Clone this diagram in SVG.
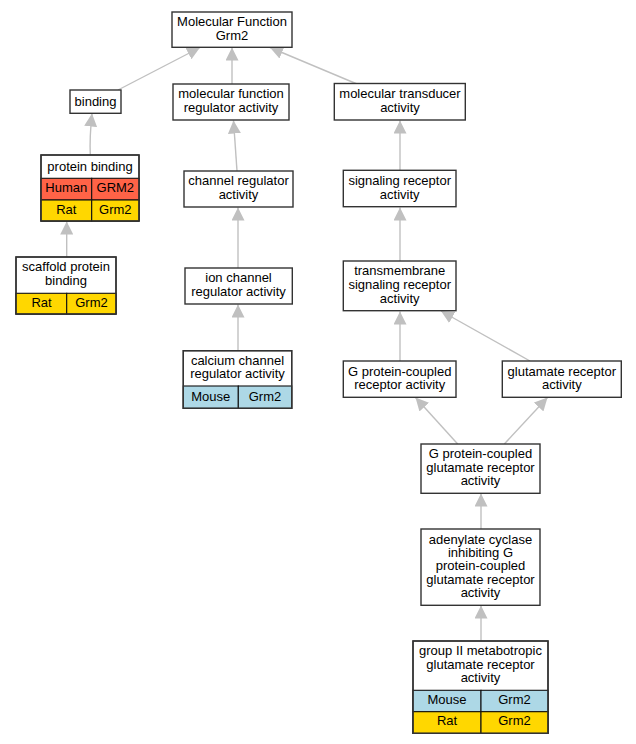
<svg xmlns="http://www.w3.org/2000/svg" width="636" height="744" viewBox="0 0 636 744">
<style>
text{font-family:"Liberation Sans",Arial,sans-serif;font-size:13px;fill:#000;text-anchor:middle}
.box{fill:#fff;stroke:#333;stroke-width:1.4}
.cell{stroke:#111;stroke-width:1.1}
.human{fill:#ff6347}
.rat{fill:#ffd700}
.mouse{fill:#add8e6}
.edge{fill:none;stroke:#c0c0c0;stroke-width:1.4}
</style>
<defs>
<marker id="ah" markerUnits="userSpaceOnUse" markerWidth="14" markerHeight="13" refX="13" refY="6.5" orient="auto">
<path d="M0,0 L13,6.5 L0,13 z" fill="#c0c0c0"/>
</marker>
</defs>
<rect width="636" height="744" fill="#fff"/>
<g id="connectors">
<path class="edge" marker-end="url(#ah)" d="M118,90 L200,47.5"/>
<path class="edge" marker-end="url(#ah)" d="M232,84 L232,47.5"/>
<path class="edge" marker-end="url(#ah)" d="M357,84 L270,47.5"/>
<path class="edge" marker-end="url(#ah)" d="M90.3,155 C89.5,140 90.5,128 92,113.5"/>
<path class="edge" marker-end="url(#ah)" d="M66.7,257 L66.7,221.5"/>
<path class="edge" marker-end="url(#ah)" d="M237,171 L233.5,120.5"/>
<path class="edge" marker-end="url(#ah)" d="M238,268 L238,207.5"/>
<path class="edge" marker-end="url(#ah)" d="M238,351 L238,304.5"/>
<path class="edge" marker-end="url(#ah)" d="M400,170 L400,120.5"/>
<path class="edge" marker-end="url(#ah)" d="M400,261 L400,207.5"/>
<path class="edge" marker-end="url(#ah)" d="M400,361 L400,311.5"/>
<path class="edge" marker-end="url(#ah)" d="M530,361 L441,311"/>
<path class="edge" marker-end="url(#ah)" d="M457.7,444 L415.5,397.5"/>
<path class="edge" marker-end="url(#ah)" d="M504.3,444 L547.5,397.5"/>
<path class="edge" marker-end="url(#ah)" d="M481,529 L481,493.5"/>
<path class="edge" marker-end="url(#ah)" d="M481,641 L481,605.5"/>
</g>
<g id="mf">
<rect class="box" x="172" y="12" width="120" height="35.3"/>
<text x="232" y="26">Molecular Function</text>
<text x="232" y="39.5">Grm2</text>
</g>
<g id="binding">
<rect class="box" x="70" y="90" width="51" height="23.3"/>
<text x="95.5" y="106">binding</text>
</g>
<g id="mfra">
<rect class="box" x="173" y="84" width="116" height="36"/>
<text x="231" y="98">molecular function</text>
<text x="231" y="111.5">regulator activity</text>
</g>
<g id="mta">
<rect class="box" x="334.3" y="83.5" width="131" height="36.5"/>
<text x="400" y="98">molecular transducer</text>
<text x="400" y="111.5">activity</text>
</g>
<g id="proteinbinding">
<rect class="box" x="41" y="155" width="98" height="66"/>
<text x="90" y="170.5">protein binding</text>
<rect class="cell human" x="41" y="178.3" width="50.7" height="21.7"/>
<rect class="cell human" x="91.7" y="178.3" width="47.3" height="21.7"/>
<rect class="cell rat" x="41" y="200" width="50.7" height="21"/>
<rect class="cell rat" x="91.7" y="200" width="47.3" height="21"/>
<text x="66.3" y="192.3">Human</text>
<text x="115.3" y="192.3">GRM2</text>
<text x="66.3" y="213.7">Rat</text>
<text x="115.3" y="213.7">Grm2</text>
<rect x="41" y="155" width="98" height="66" fill="none" stroke="#333" stroke-width="1.4"/>
</g>
<g id="scaffold">
<rect class="box" x="16" y="257" width="100" height="57"/>
<text x="66" y="271.2">scaffold protein</text>
<text x="66" y="284.5">binding</text>
<rect class="cell rat" x="16" y="293.3" width="50.7" height="20.7"/>
<rect class="cell rat" x="66.7" y="293.3" width="49.3" height="20.7"/>
<text x="41.5" y="307.3">Rat</text>
<text x="91.5" y="307.3">Grm2</text>
<rect x="16" y="257" width="100" height="57" fill="none" stroke="#333" stroke-width="1.4"/>
</g>
<g id="channelreg">
<rect class="box" x="184" y="171" width="109" height="36"/>
<text x="238.5" y="185">channel regulator</text>
<text x="238.5" y="198.5">activity</text>
</g>
<g id="ionchannel">
<rect class="box" x="185" y="268" width="107.3" height="36"/>
<text x="238.5" y="282">ion channel</text>
<text x="238.5" y="295.5">regulator activity</text>
</g>
<g id="calcium">
<rect class="box" x="183.3" y="350.7" width="108.4" height="57.6"/>
<text x="237.5" y="365">calcium channel</text>
<text x="237.5" y="378">regulator activity</text>
<rect class="cell mouse" x="183.3" y="386" width="55" height="22.3"/>
<rect class="cell mouse" x="238.3" y="386" width="53.4" height="22.3"/>
<text x="210.8" y="400.5">Mouse</text>
<text x="265" y="400.5">Grm2</text>
<rect x="183.3" y="350.7" width="108.4" height="57.6" fill="none" stroke="#333" stroke-width="1.4"/>
</g>
<g id="signaling">
<rect class="box" x="343.3" y="170.3" width="112.7" height="36.4"/>
<text x="399.7" y="185">signaling receptor</text>
<text x="399.7" y="198.5">activity</text>
</g>
<g id="transmembrane">
<rect class="box" x="343.3" y="261" width="112.7" height="49.7"/>
<text x="399.7" y="275.3">transmembrane</text>
<text x="399.7" y="289.3">signaling receptor</text>
<text x="399.7" y="302.5">activity</text>
</g>
<g id="gpcr">
<rect class="box" x="343.3" y="361" width="112.7" height="36.3"/>
<text x="399.7" y="375.5">G protein-coupled</text>
<text x="399.7" y="389">receptor activity</text>
</g>
<g id="glutamate">
<rect class="box" x="502.3" y="361" width="119" height="36.3"/>
<text x="561.8" y="375.5">glutamate receptor</text>
<text x="561.8" y="389">activity</text>
</g>
<g id="gpcglut">
<rect class="box" x="421" y="444" width="119" height="49.3"/>
<text x="480.5" y="458.3">G protein-coupled</text>
<text x="480.5" y="471.7">glutamate receptor</text>
<text x="480.5" y="485.2">activity</text>
</g>
<g id="adenylate">
<rect class="box" x="421" y="529" width="119" height="76.3"/>
<text x="480.5" y="543.5">adenylate cyclase</text>
<text x="480.5" y="556.9">inhibiting G</text>
<text x="480.5" y="570.3">protein-coupled</text>
<text x="480.5" y="583.7">glutamate receptor</text>
<text x="480.5" y="597.2">activity</text>
</g>
<g id="groupII">
<rect class="box" x="413" y="641" width="135" height="92.3"/>
<text x="480.5" y="655.2">group II metabotropic</text>
<text x="480.5" y="668.8">glutamate receptor</text>
<text x="480.5" y="682.2">activity</text>
<rect class="cell mouse" x="413" y="690.3" width="68" height="21.4"/>
<rect class="cell mouse" x="481" y="690.3" width="67" height="21.4"/>
<rect class="cell rat" x="413" y="711.7" width="68" height="21.6"/>
<rect class="cell rat" x="481" y="711.7" width="67" height="21.6"/>
<text x="447" y="703.8">Mouse</text>
<text x="514.5" y="703.8">Grm2</text>
<text x="447" y="724.5">Rat</text>
<text x="514.5" y="724.5">Grm2</text>
<rect x="413" y="641" width="135" height="92.3" fill="none" stroke="#333" stroke-width="1.4"/>
</g>
</svg>
